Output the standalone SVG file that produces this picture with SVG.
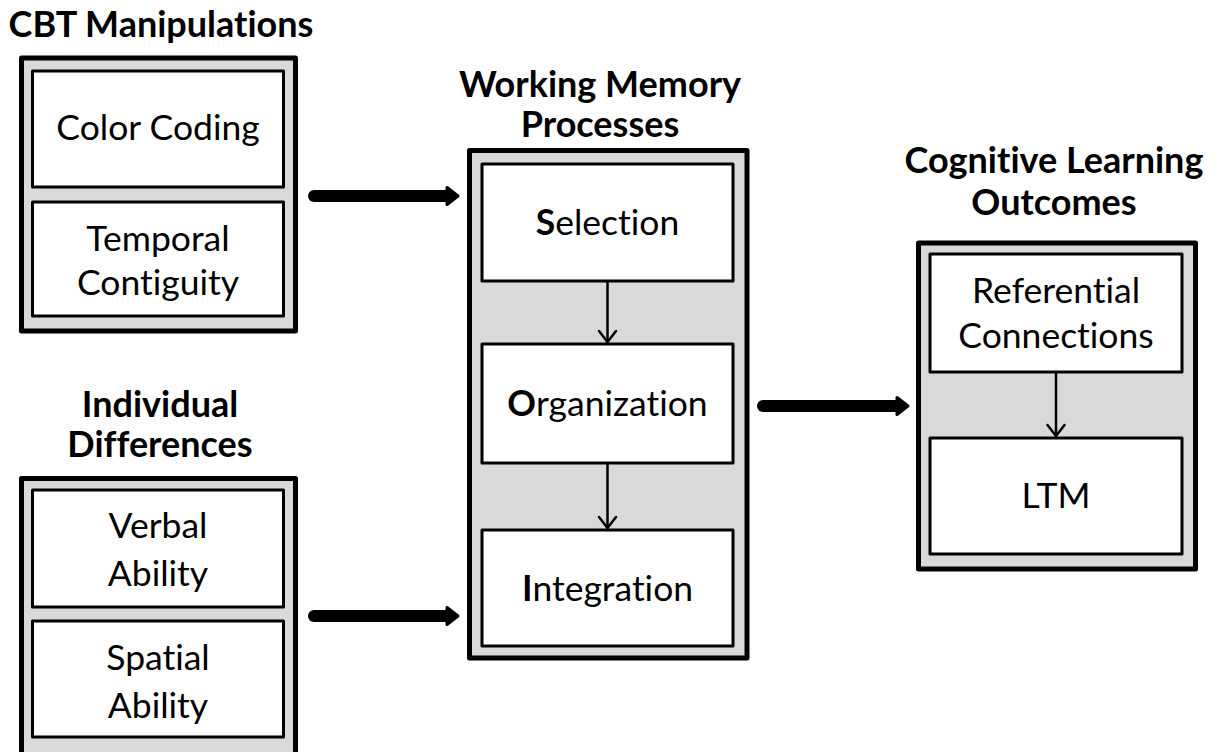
<svg xmlns="http://www.w3.org/2000/svg" width="1221" height="752" viewBox="0 0 1221 752">
  <defs>
    <style>
      .outer { fill: #d9d9d9; stroke: #000; stroke-width: 5; stroke-linejoin: round; }
      .inner { fill: #fff; stroke: #000; stroke-width: 3; stroke-linejoin: round; }
      text { font-family: Lato, "Liberation Sans", sans-serif; text-anchor: middle; fill: #000; font-variant-ligatures: none; }
      .title { font-weight: bold; font-size: 36px; }
      .label { font-size: 35.5px; }
      .b { font-weight: bold; }
      .thin { stroke: #000; stroke-width: 2.5; fill: none; stroke-linecap: round; stroke-linejoin: round; }
      .thick { stroke: #000; stroke-width: 12; stroke-linecap: round; }
      .head { fill: #000; stroke: #000; stroke-width: 3; stroke-linejoin: round; }
    </style>
  </defs>
  <rect width="1221" height="752" fill="#fff"/>

  <!-- CBT manipulations -->
  <g id="cbt">
    <text class="title" x="161" y="37">CBT Manipulations</text>
    <rect class="outer" x="21.5" y="58" width="274" height="273"/>
    <rect class="inner" x="32.5" y="71" width="251" height="116"/>
    <text class="label" x="158" y="140">Color Coding</text>
    <rect class="inner" x="32.5" y="202" width="251" height="114"/>
    <text class="label" x="158" y="251">Temporal</text>
    <text class="label" x="158" y="295">Contiguity</text>
  </g>

  <!-- Individual differences -->
  <g id="individual">
    <text class="title" x="160" y="417">Individual</text>
    <text class="title" x="160" y="457">Differences</text>
    <rect class="outer" x="21.5" y="478.5" width="274" height="290"/>
    <rect class="inner" x="32.5" y="490" width="251" height="117"/>
    <text class="label" x="158" y="538">Verbal</text>
    <text class="label" x="158" y="586">Ability</text>
    <rect class="inner" x="32.5" y="621" width="251" height="116"/>
    <text class="label" x="158" y="670">Spatial</text>
    <text class="label" x="158" y="718">Ability</text>
  </g>

  <!-- Working memory processes -->
  <g id="working-memory">
    <text class="title" x="600" y="97">Working Memory</text>
    <text class="title" x="600" y="137">Processes</text>
    <rect class="outer" x="469.5" y="150.5" width="277.5" height="507.5"/>
    <rect class="inner" x="482" y="164" width="251" height="117"/>
    <text class="label" x="607.5" y="235"><tspan class="b">S</tspan>election</text>
    <rect class="inner" x="482" y="344" width="251" height="119"/>
    <text class="label" x="607.5" y="416"><tspan class="b">O</tspan>rganization</text>
    <rect class="inner" x="482" y="530" width="251" height="116"/>
    <text class="label" x="607.5" y="601"><tspan class="b">I</tspan>ntegration</text>
  </g>

  <!-- Cognitive learning outcomes -->
  <g id="outcomes">
    <text class="title" x="1054" y="173">Cognitive Learning</text>
    <text class="title" x="1054" y="215">Outcomes</text>
    <rect class="outer" x="918.5" y="243" width="277" height="326"/>
    <rect class="inner" x="930" y="254" width="252" height="118"/>
    <text class="label" x="1056" y="303">Referential</text>
    <text class="label" x="1056" y="348">Connections</text>
    <rect class="inner" x="930" y="438" width="252" height="116"/>
    <text class="label" x="1056" y="508">LTM</text>
  </g>

  <!-- connectors -->
  <g id="connectors">
    <line class="thin" x1="607.5" y1="282" x2="607.5" y2="342"/>
    <polyline class="thin" points="599,331 607.5,342 616,331"/>
    <line class="thin" x1="607.5" y1="464" x2="607.5" y2="528"/>
    <polyline class="thin" points="599,517 607.5,528 616,517"/>
    <line class="thin" x1="1056" y1="373" x2="1056" y2="436"/>
    <polyline class="thin" points="1047.5,425 1056,436 1064.5,425"/>

    <line class="thick" x1="314" y1="196" x2="448" y2="196"/>
    <polygon class="head" points="447,187.5 458,196 447,204.5"/>
    <line class="thick" x1="314" y1="616" x2="448" y2="616"/>
    <polygon class="head" points="447,607.5 458,616 447,624.5"/>
    <line class="thick" x1="763" y1="406" x2="898" y2="406"/>
    <polygon class="head" points="897,397.5 908,406 897,414.5"/>
  </g>
</svg>
